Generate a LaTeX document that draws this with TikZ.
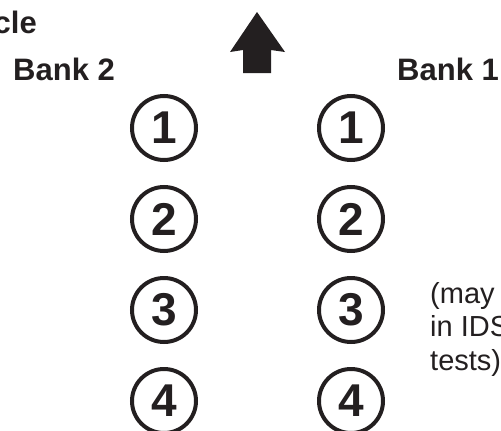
\documentclass[tikz,border=0pt]{standalone}
\usepackage{fontspec}
\setmainfont{Liberation Sans}
\usetikzlibrary{positioning}
\definecolor{ink}{RGB}{35,31,32}

\begin{document}
\begin{tikzpicture}[x=1pt, y=-1pt,
  every node/.style={text=ink, inner sep=0pt},
  cyl/.style={circle, draw=ink, line width=4pt, minimum size=64pt,
    font=\fontsize{46}{50}\selectfont\bfseries},
  bank/.style={anchor=base west, font=\fontsize{31}{36}\selectfont\bfseries}
 ]
 \useasboundingbox (0,0) rectangle (501,431);

 \node [anchor=base east, font=\fontsize{31}{36}\selectfont\bfseries] (head) at (37,33) {cle};
 \node [bank] (B2) at (13,80) {Bank 2};
 \node [bank] (B1) at (397,80) {Bank 1};

 % direction of travel
 \fill [ink] (257,12) -- (285,52) -- (271,50) -- (271,73) -- (243,73) -- (243,50) -- (230,52) -- cycle;

 \foreach \n in {1,...,4} {
  \node [cyl] (L\n) at (164,{128+91*(\n-1)}) {\n};
  \node [cyl] (R\n) at (351,{128+91*(\n-1)}) {\n};
 }

 \node [anchor=base west, align=left, font=\fontsize{29}{33.5}\selectfont] (note) at (430,370)
  {(may\\in IDS\\tests)};
\end{tikzpicture}
\end{document}
